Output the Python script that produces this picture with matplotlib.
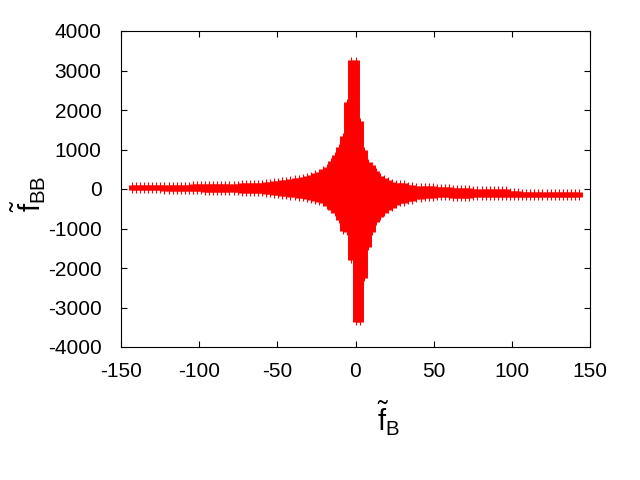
import numpy as np
import matplotlib
matplotlib.use('Agg')
import matplotlib.pyplot as plt

# sample positions (f_B) and error bar ends (f_BB)
x = [-143.0, -140.4, -137.8, -135.2, -132.6, -130.0, -127.4, -124.8, -122.2, -119.6,
     -117.0, -114.4, -111.8, -109.2, -106.6, -104.0, -101.4, -98.8, -96.2, -93.6,
     -91.0, -88.4, -85.8, -83.2, -80.6, -78.0, -75.4, -72.8, -70.2, -67.6,
     -65.0, -62.4, -59.8, -57.2, -54.6, -52.0, -49.4, -46.8, -44.2, -41.6,
     -39.0, -36.4, -33.8, -31.2, -28.6, -26.0, -23.4, -20.8, -18.2, -15.6,
     -13.0, -10.4, -7.8, -5.2, -2.6, 0.0, 2.6, 5.2, 7.8, 10.4,
     13.0, 15.6, 18.2, 20.8, 23.4, 26.0, 28.6, 31.2, 33.8, 36.4,
     39.0, 41.6, 44.2, 46.8, 49.4, 52.0, 54.6, 57.2, 59.8, 62.4,
     65.0, 67.6, 70.2, 72.8, 75.4, 78.0, 80.6, 83.2, 85.8, 88.4,
     91.0, 93.6, 96.2, 98.8, 101.4, 104.0, 106.6, 109.2, 111.8, 114.4,
     117.0, 119.6, 122.2, 124.8, 127.4, 130.0, 132.6, 135.2, 137.8, 140.4,
     143.0]

y_high = ([101] * 15 + [126] * 12 +
          [140, 143, 143, 160, 160, 160, 180, 185, 200, 215, 228, 235, 253, 270,
           290, 312, 340, 360, 397, 430, 500, 560, 700, 850, 1055, 1340, 2190, 3270] +
          [3270, 1730, 1000, 690, 600, 450, 330, 270, 228, 185, 143, 143, 143, 101, 101] +
          [76] * 5 + [42] * 4 + [20] * 5 + [-10] * 9 + [-50] * 3 + [-70] * 7 + [-80] * 8)

y_low = ([-25] * 8 + [-50] * 10 + [-76] * 9 +
         [-90, -93, -93, -100, -110, -110, -130, -135, -150, -160, -175, -185, -194, -210,
          -219, -240, -261, -280, -300, -330, -360, -440, -520, -600, -780, -1060, -1100, -1800] +
         [-3360, -3360, -2260, -1460, -1100, -830, -700, -600, -530, -489, -405, -346, -346,
          -304, -304, -261, -261] +
         [-236] * 3 + [-215] * 4 + [-225] * 5 + [-215] * 9 + [-205] * 3 + [-202] * 15)

x_ticks = [-150, -100, -50, 0, 50, 100, 150]
y_ticks = [-4000, -3000, -2000, -1000, 0, 1000, 2000, 3000, 4000]

plt.rcParams['font.family'] = ['Liberation Sans', 'DejaVu Sans']
plt.rcParams['mathtext.fontset'] = 'custom'
plt.rcParams['mathtext.rm'] = 'Liberation Sans'
plt.rcParams['mathtext.it'] = 'Liberation Sans'
plt.rcParams['axes.unicode_minus'] = False

fig = plt.figure(figsize=(6.4, 4.8), dpi=100)
ax = fig.add_axes([121 / 640, 1 - 347 / 480, 469 / 640, 316 / 480])

ax.vlines(x, y_low, y_high, colors='#ff0000', linewidth=5.0)
ax.plot(x, y_high, ls='none', marker='|', ms=4.5, mew=0.8, color='#ff0000')
ax.plot(x, y_low, ls='none', marker='|', ms=4.5, mew=0.8, color='#ff0000')

ax.set_xlim(-150, 150)
ax.set_ylim(-4000, 4000)
ax.set_xticks(x_ticks)
ax.set_yticks(y_ticks)
ax.tick_params(direction='in', length=4, width=0.8, top=True, right=True,
               labelsize=15, pad=11, colors='black')
ax.tick_params(axis='y', pad=14)
for sp in ax.spines.values():
    sp.set_linewidth(0.8)

ax.set_xlabel(r'$\tilde{\mathrm{f}}_{\mathrm{B}}$', fontsize=21)
ax.xaxis.set_label_coords((388 - 121) / 469, -0.165)
ax.set_ylabel(r'$\tilde{\mathrm{f}}_{\mathrm{BB}}$', fontsize=21)
ax.yaxis.set_label_coords(-0.155, 0.485)

fig.savefig('out.png', dpi=100)
